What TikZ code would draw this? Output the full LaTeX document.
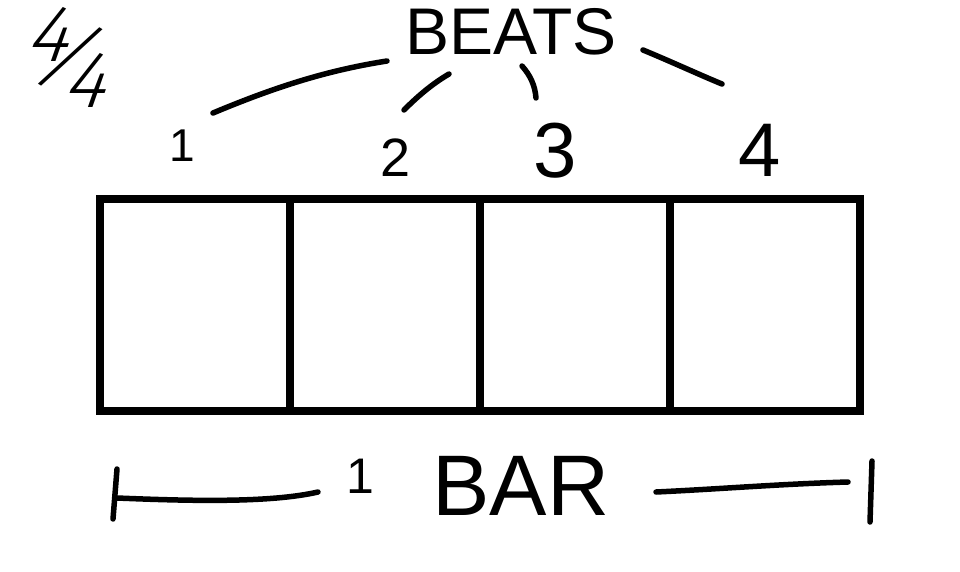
\documentclass[tikz,border=0pt]{standalone}
\usepackage{graphicx}
\usepackage{fontspec}
\setmainfont{Liberation Sans}
\newfontfamily\thinfont{Fira Sans Light}[FakeSlant=0.35]
\begin{document}
\begin{tikzpicture}[x=1pt,y=1pt,
  cell/.style={draw, line width=8pt, minimum width=190pt, minimum height=212pt, inner sep=0pt},
  ink/.style={line width=5.5pt, line cap=round},
  lbl/.style={inner sep=0pt, anchor=base},
  sz/.style={font=\fontsize{#1}{#1}\selectfont},
  thn/.style={inner sep=0pt, font=\thinfont\fontsize{#1}{#1}\selectfont},
]
\useasboundingbox (0,0) rectangle (960,-572);
\fill[white] (0,0) rectangle (960,-572);

% time signature
\node[thn=80, anchor=base west] (ts) at (21,-75)
  {\kern3pt\raisebox{13pt}{4}\kern-34pt\rotatebox[origin=bl]{-16}{/}\kern-30pt\raisebox{-33pt}{4}};

% title
\node[lbl, sz=66] (beats) at (511,-55) {BEATS};

% beat numbers
\node[lbl, sz=46] (n1) at (182,-162) {1};
\node[lbl, sz=54] (n2) at (396,-176) {2};
\node[lbl, sz=78] (n3) at (555,-178) {3};
\node[lbl, sz=76] (n4) at (760,-177) {4};

% bar cells
\node[cell] (c1) at (195,-305) {};
\node[cell] (c2) at (385,-305) {};
\node[cell] (c3) at (575,-305) {};
\node[cell] (c4) at (765,-305) {};

% bar label
\node[lbl, sz=50] (bar1) at (360,-493) {1};
\node[lbl, sz=86] (bar) at (521,-515) {BAR};

% connector ends
\coordinate (a1) at (213,-113); \coordinate (b1) at (387,-61);
\coordinate (a2) at (404,-110); \coordinate (b2) at (449,-74);
\coordinate (a3) at (536,-98);  \coordinate (b3) at (522,-66);
\coordinate (a4) at (722,-84);  \coordinate (b4) at (643,-50);

\draw[ink] (a1) .. controls (280,-85) and (330,-70) .. (b1);
\draw[ink] (a2) .. controls (418,-96) and (432,-84) .. (b2);
\draw[ink] (a3) .. controls (535,-85) and (530,-75) .. (b3);
\draw[ink] (a4) .. controls (700,-75) and (672,-62) .. (b4);

% bracket under the bar
\coordinate (lt1) at (117,-469); \coordinate (lt2) at (113,-519);
\coordinate (ll1) at (117,-498); \coordinate (ll2) at (318,-492);
\coordinate (rl1) at (656,-492); \coordinate (rl2) at (848,-482);
\coordinate (rt1) at (872,-461); \coordinate (rt2) at (870,-522);

\draw[ink] (lt1) -- (lt2);
\draw[ink] (ll1) .. controls (190,-501) and (270,-503) .. (ll2);
\draw[ink] (rl1) .. controls (720,-489) and (780,-484) .. (rl2);
\draw[ink] (rt1) -- (rt2);
\end{tikzpicture}
\end{document}
